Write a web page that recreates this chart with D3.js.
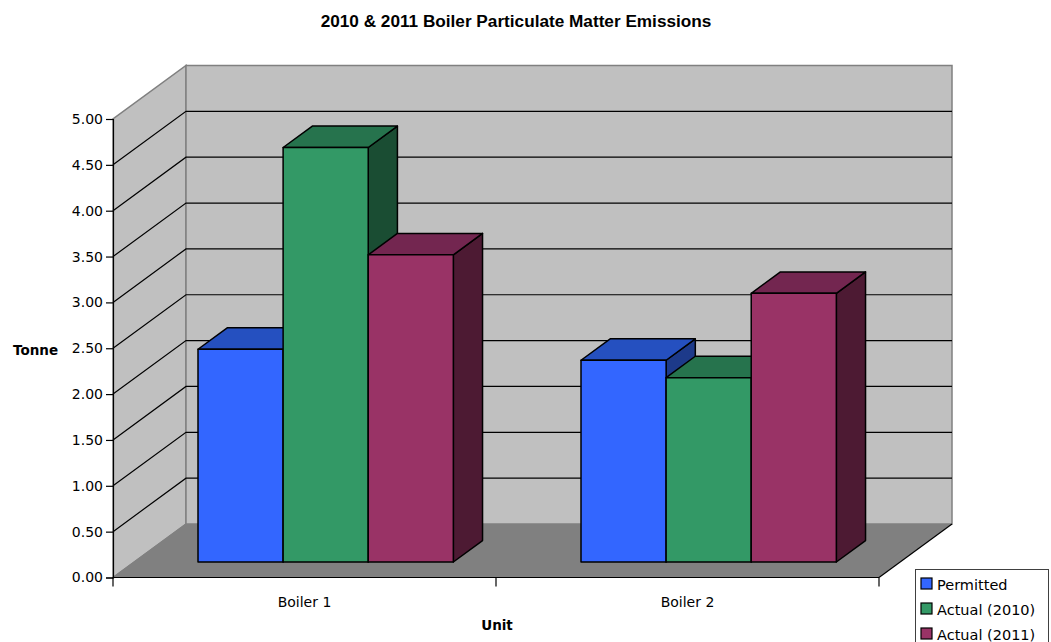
<!DOCTYPE html>
<html>
<head>
<meta charset="utf-8">
<script src="https://cdn.jsdelivr.net/npm/d3@7/dist/d3.min.js"></script>
<style>
  html, body { margin: 0; padding: 0; background: #ffffff; }
  svg { display: block; }
</style>
</head>
<body>
<svg id="chart" width="1051" height="642"></svg>
<script>
// Chart data
const categories = ["Boiler 1", "Boiler 2"];
const seriesNames = ["Permitted", "Actual (2010)", "Actual (2011)"];
const permitted = [2.32, 2.20];
const actual2010 = [4.52, 2.01];
const actual2011 = [3.35, 2.93];
const yTicks = [0, 0.5, 1, 1.5, 2, 2.5, 3, 3.5, 4, 4.5, 5];

const seriesValues = [permitted, actual2010, actual2011];
// front, top, side shades for each series
const shades = [
  { front: "#3366FF", top: "#2550C0", side: "#1D3A8A" },
  { front: "#339966", top: "#26734D", side: "#1A4D33" },
  { front: "#993366", top: "#732650", side: "#4D1A33" }
];

const svg = d3.select("#chart");

// Oblique 3D layout: front plane and depth vector
const X0 = 113, X1 = 879;         // front floor edge
const Y0 = 577.5, Y5 = 119;        // front plane value range
const DX = 73, DY = -53.5;         // full depth offset
const barDepth0 = 0.29, barDepth1 = 0.69;

const y = d3.scaleLinear().domain([0, 5]).range([Y0, Y5]);
const x = d3.scaleBand().domain(categories).range([X0, X1]).paddingInner(0).paddingOuter(0);
const xs = d3.scaleBand().domain(seriesNames).range([0, x.bandwidth()]).paddingInner(0).paddingOuter(0.75);

const pt = (px, py, f) => [px + DX * f, py + DY * f];
const poly = pts => "M" + pts.map(p => p.join(",")).join("L") + "Z";

// Walls
const wallFill = "#C0C0C0", wallEdge = "#808080";
// side wall
svg.append("path")
  .attr("d", poly([pt(X0, y(0), 0), pt(X0, y(5), 0), pt(X0, y(5), 1), pt(X0, y(0), 1)]))
  .attr("fill", wallFill).attr("stroke", wallEdge).attr("stroke-width", 1.5);
// back wall
svg.append("path")
  .attr("d", poly([pt(X0, y(0), 1), pt(X0, y(5), 1), pt(X1, y(5), 1), pt(X1, y(0), 1)]))
  .attr("fill", wallFill).attr("stroke", wallEdge).attr("stroke-width", 1.5);

// Gridlines on side and back walls
const inner = yTicks.filter(v => v > 0 && v < 5);
svg.append("g").selectAll("path").data(inner).join("path")
  .attr("d", v => {
    const a = pt(X0, y(v), 0), b = pt(X0, y(v), 1), c = pt(X1, y(v), 1);
    return "M" + a + "L" + b + "L" + c;
  })
  .attr("fill", "none").attr("stroke", "#000").attr("stroke-width", 1.2);

// Floor
svg.append("path")
  .attr("d", poly([pt(X0, y(0), 0), pt(X0, y(0), 1), pt(X1, y(0), 1), pt(X1, y(0), 0)]))
  .attr("fill", "#808080").attr("stroke", "none");
svg.append("path")
  .attr("d", "M" + pt(X1, y(0), 0) + "L" + pt(X1, y(0), 1))
  .attr("stroke", "#000").attr("stroke-width", 1.2);
svg.append("path")
  .attr("d", "M" + pt(X0, y(0), 0) + "L" + pt(X0, y(0), 1))
  .attr("stroke", wallEdge).attr("stroke-width", 1.2);

// Bars
const bars = [];
categories.forEach((c, ci) => {
  seriesNames.forEach((s, si) => {
    bars.push({ c, s, ci, si, v: seriesValues[si][ci] });
  });
});

const barG = svg.append("g");
bars.forEach(d => {
  const l = x(d.c) + xs(d.s), r = l + xs.bandwidth();
  const yt = y(d.v), yb = y(0);
  const col = shades[d.si];
  const g = barG.append("g").attr("stroke", "#000").attr("stroke-width", 1.5).attr("stroke-linejoin", "round");
  // right side face
  g.append("path").attr("fill", col.side)
    .attr("d", poly([pt(r, yb, barDepth0), pt(r, yt, barDepth0), pt(r, yt, barDepth1), pt(r, yb, barDepth1)]));
  // top face
  g.append("path").attr("fill", col.top)
    .attr("d", poly([pt(l, yt, barDepth0), pt(l, yt, barDepth1), pt(r, yt, barDepth1), pt(r, yt, barDepth0)]));
  // front face
  g.append("path").attr("fill", col.front)
    .attr("d", poly([pt(l, yb, barDepth0), pt(l, yt, barDepth0), pt(r, yt, barDepth0), pt(r, yb, barDepth0)]));
});

// Value axis
const yAxis = d3.axisLeft(y).tickValues(yTicks).tickSize(7).tickPadding(3).tickFormat(d3.format(".2f"));
const ya = svg.append("g").attr("transform", `translate(${X0},0)`).call(yAxis);
ya.select(".domain").attr("stroke", "#000").attr("stroke-width", 1.2);
ya.selectAll(".tick line").attr("stroke", "#000").attr("stroke-width", 1.2);
ya.selectAll(".tick text").attr("font-family", "DejaVu Sans").attr("font-size", 14).attr("fill", "#000");

// Category axis
svg.append("line").attr("x1", X0).attr("x2", X1).attr("y1", y(0)).attr("y2", y(0))
  .attr("stroke", "#000").attr("stroke-width", 1.2);
const edges = categories.map(c => x(c)).concat([X1]);
svg.append("g").selectAll("line").data(edges).join("line")
  .attr("x1", d => d).attr("x2", d => d).attr("y1", y(0)).attr("y2", y(0) + 9)
  .attr("stroke", "#000").attr("stroke-width", 1.2);
svg.append("g").selectAll("text").data(categories).join("text")
  .attr("x", d => x(d) + x.bandwidth() / 2).attr("y", 607)
  .attr("text-anchor", "middle").attr("font-family", "DejaVu Sans").attr("font-size", 14)
  .text(d => d);

// Titles
svg.append("text").attr("x", 516).attr("y", 27).attr("text-anchor", "middle")
  .attr("font-family", "Liberation Sans, Arial, sans-serif").attr("font-weight", "bold").attr("font-size", 17.2)
  .text("2010 & 2011 Boiler Particulate Matter Emissions");
svg.append("text").attr("x", 13).attr("y", 355)
  .attr("font-family", "DejaVu Sans").attr("font-weight", "bold").attr("font-size", 13.5)
  .text("Tonne");
svg.append("text").attr("x", 497).attr("y", 630).attr("text-anchor", "middle")
  .attr("font-family", "DejaVu Sans").attr("font-weight", "bold").attr("font-size", 13.5)
  .text("Unit");

// Legend
const lg = svg.append("g");
lg.append("rect").attr("x", 915.5).attr("y", 569.5).attr("width", 133).attr("height", 80)
  .attr("fill", "#fff").attr("stroke", "#404040").attr("stroke-width", 1);
const li = lg.selectAll("g.item").data(seriesNames).join("g").attr("class", "item")
  .attr("transform", (d, i) => `translate(921, ${578 + i * 25})`);
li.append("rect").attr("width", 11).attr("height", 11)
  .attr("fill", (d, i) => shades[i].front).attr("stroke", "#000").attr("stroke-width", 1.2);
li.append("text").attr("x", 16).attr("y", 11.5)
  .attr("font-family", "DejaVu Sans").attr("font-size", 14.5).text(d => d);
</script>
</body>
</html>
